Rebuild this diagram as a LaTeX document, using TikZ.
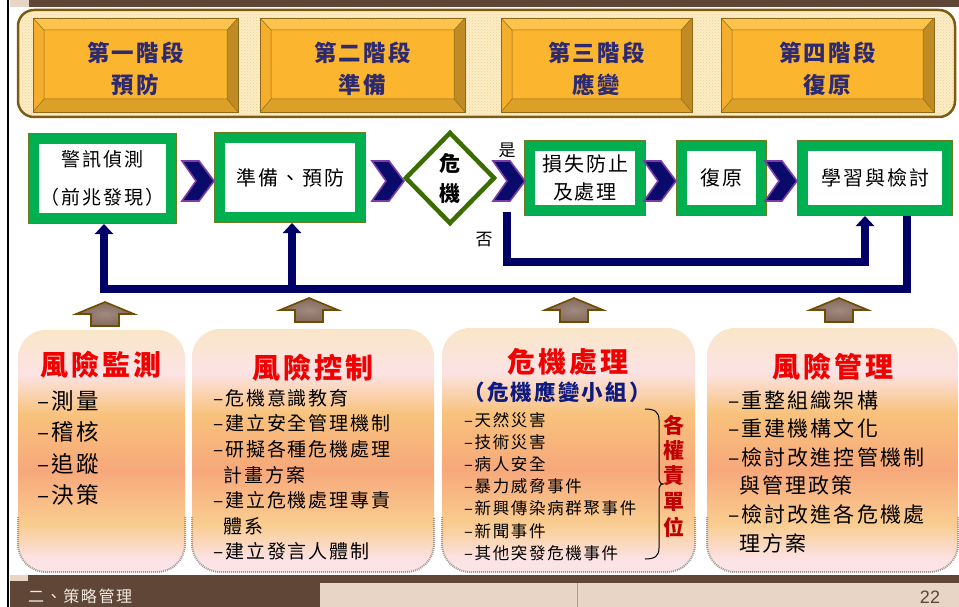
\documentclass[tikz,border=0pt]{standalone}
\usepackage{fontspec}
\setmainfont{Noto Sans CJK TC}
\newfontfamily\cjk[LetterSpace=10]{Noto Sans CJK TC}
\newfontfamily\arialf{Liberation Sans}
\usetikzlibrary{shapes.geometric,arrows.meta,patterns,calc}

\definecolor{navy}{HTML}{000066}
\definecolor{chevfill}{HTML}{0A0A6B}
\definecolor{chevline}{HTML}{7B3CA6}
\definecolor{boxgreen}{HTML}{00B050}
\definecolor{boxedge}{HTML}{6E7A1E}
\definecolor{diagreen}{HTML}{3A6E00}
\definecolor{barbrown}{HTML}{5F4637}
\definecolor{tanc}{HTML}{E8D5C6}
\definecolor{bannerline}{HTML}{7D5C12}
\definecolor{bannerfill}{HTML}{FCEDC8}
\definecolor{bannerdot}{HTML}{F2D48A}
\definecolor{gface}{HTML}{FCB52F}
\definecolor{gtopc}{HTML}{FDC34C}
\definecolor{gleftc}{HTML}{F4AE2C}
\definecolor{grightc}{HTML}{C08A24}
\definecolor{gbotc}{HTML}{DC9F28}
\definecolor{gedgec}{HTML}{8C6A18}
\definecolor{phtext}{HTML}{2E2A72}
\definecolor{titlered}{HTML}{F00000}
\definecolor{subnavy}{HTML}{0E1A80}
\definecolor{unitred}{HTML}{C00000}
\definecolor{arrin}{HTML}{A08A80}
\definecolor{arrout}{HTML}{85695C}
\definecolor{arrline}{HTML}{6E4D00}
\definecolor{shadowc}{HTML}{A09A95}
\definecolor{foottext}{HTML}{F2EAE2}
\definecolor{shA}{HTML}{F9E6C8}
\definecolor{shB}{HTML}{FCE3E4}
\definecolor{shC}{HTML}{F8C27C}
\definecolor{shD}{HTML}{F7A87B}
\definecolor{shE}{HTML}{F9CC8F}
\definecolor{shF}{HTML}{FCE3E6}

\pgfdeclareverticalshading{boxshade}{100bp}{color(0bp)=(shF); color(27.5bp)=(shF); color(35bp)=(shE); color(46bp)=(shD); color(57.5bp)=(shC); color(66bp)=(shB); color(75bp)=(shA); color(100bp)=(shA)}

\tikzset{
  flowbox/.style={draw=boxedge, line width=0.7pt, double=boxgreen, double distance=10pt,
    fill=white, inner sep=0pt, outer sep=5.7pt, align=center, text=black},
  chevshape/.style={fill=chevfill, draw=chevline, line width=1.6pt, line join=miter},
  chevpic/.pic={\path[chevshape] (0,-20) -- (17,-20) -- (32,0) -- (17,20) -- (0,20) -- (14,0) -- cycle;},
  loopline/.style={draw=navy, line width=8pt, line join=miter},
  uptip/.style={-{Triangle[width=18pt,length=10pt]}},
  lbl/.style={inner sep=0pt, font=\fontsize{17}{17}\selectfont},
  phasetext/.style={inner sep=0pt, align=center, text=phtext, font=\cjk\bfseries\fontsize{22.5}{32}\selectfont},
  uparrow/.style={inner color=arrin, outer color=arrout, draw=arrline, line width=1.6pt, line join=miter},
  boxshadow/.style={draw=shadowc, line width=2pt, dash pattern=on 1pt off 1pt},
  rtitle/.style={inner sep=0pt, text=titlered, font=\cjk\bfseries\fontsize{28}{28}\selectfont},
  itemA/.style={inner sep=0pt, anchor=west, font=\cjk\fontsize{22.5}{22.5}\selectfont},
  itemB/.style={inner sep=0pt, anchor=west, font=\cjk\fontsize{19}{19}\selectfont},
  itemC/.style={inner sep=0pt, anchor=west, font=\cjk\fontsize{16.5}{16.5}\selectfont},
  itemD/.style={inner sep=0pt, anchor=west, font=\cjk\fontsize{21}{21}\selectfont},
}

\newcommand\phasebox[4]{%
  \fill[gtopc] (#2,18) -- (#3,18) -- (#3-11,30) -- (#2+11,30) -- cycle;
  \fill[gbotc] (#2,112) -- (#3,112) -- (#3-11,99) -- (#2+11,99) -- cycle;
  \fill[gleftc] (#2,18) -- (#2+11,30) -- (#2+11,99) -- (#2,112) -- cycle;
  \fill[grightc] (#3,18) -- (#3-11,30) -- (#3-11,99) -- (#3,112) -- cycle;
  \fill[gface] (#2+11,30) rectangle (#3-11,99);
  \draw[gedgec, line width=0.6pt] (#2,18) rectangle (#3,112);
  \draw[gedgec, line width=0.5pt] (#2,18) -- (#2+11,30) (#3,18) -- (#3-11,30)
     (#2,112) -- (#2+11,99) (#3,112) -- (#3-11,99) (#2+11,30) rectangle (#3-11,99);
  \node[phasetext] (#1) at ({(#2+#3)/2},69) {#4};
}
\newcommand\riskbox[4]{%
  \shade[shading=boxshade, rounded corners=28pt] (#1,#2) rectangle (#3,#4);
  \draw[boxshadow, rounded corners=28pt] (#1,#4-55) -- (#1,#4) -- (#3,#4) -- (#3,#4-55);
}
\newcommand\uparr[2]{%
  \path[uparrow] (#1,#2) -- (#1+29,#2+12) -- (#1+14,#2+12) -- (#1+14,#2+24) -- (#1-14,#2+24)
    -- (#1-14,#2+12) -- (#1-29,#2+12) -- cycle;
}

\begin{document}
\begin{tikzpicture}[x=1pt,y=-1pt]
\useasboundingbox (0,0) rectangle (959,607);
\fill[white] (0,0) rectangle (959,607);

% top bar and left rule
\fill[barbrown] (29,0) rectangle (959,7);
\fill[tanc] (10,0) rectangle (29,7);

% banner
\draw[bannerline, line width=2.5pt, fill=bannerfill, rounded corners=16pt] (18,10) rectangle (955,117);
\fill[pattern=crosshatch dots, pattern color=bannerdot, rounded corners=15pt] (19.5,11.5) rectangle (953.5,115.5);

\phasebox{P1}{33}{238}{第一階段\\預防}
\phasebox{P2}{260}{465}{第二階段\\準備}
\phasebox{P3}{501}{692}{第三階段\\應變}
\phasebox{P4}{721}{934}{第四階段\\復原}

% flow row
\node[flowbox, minimum width=137.6pt, minimum height=79.6pt, font=\cjk\fontsize{19}{38}\selectfont] (A) at (102.5,178.5) {警訊偵測\\（前兆發現）};
\node[flowbox, minimum width=140.6pt, minimum height=79.6pt, font=\cjk\fontsize{20}{20}\selectfont] (B) at (290,177.5) {準備、預防};
\node[diamond, draw=diagreen, line width=4.5pt, minimum width=90pt, minimum height=92pt, inner sep=0pt, align=center, font=\bfseries\fontsize{21}{30}\selectfont] (D) at (450,178) {危\\機};
\node[flowbox, minimum width=110.6pt, minimum height=64.6pt, font=\cjk\fontsize{20}{28}\selectfont] (C) at (585,178) {損失防止\\及處理};
\node[flowbox, minimum width=79.6pt, minimum height=64.6pt, font=\cjk\fontsize{20}{20}\selectfont] (R) at (721.5,178) {復原};
\node[flowbox, minimum width=144.6pt, minimum height=64.6pt, font=\cjk\fontsize{20}{20}\selectfont] (E) at (875,178) {學習與檢討};

\pic at (182,181) {chevpic};
\pic at (372,181) {chevpic};
\pic at (493,181) {chevpic};
\pic at (644,181) {chevpic};
\pic at (765,181) {chevpic};

\node[lbl] (yes) at (507,150) {是};
\node[lbl] (no) at (484,240) {否};

% feedback loops
\coordinate (j1) at (104,289);
\coordinate (j2) at (292,289);
\coordinate (nStart) at (507,212);
\coordinate (j3) at (865,262);
\draw[loopline, uptip] ($(E.south)+(32,0)$) |- (j1) -- (j1 |- A.south);
\draw[loopline, uptip] (j2) -- (j2 |- B.south);
\draw[loopline, uptip] (nStart) |- (j3) -- (j3 |- E.south);

% up arrows
\uparr{105}{302}
\uparr{309}{298}
\uparr{574}{298}
\uparr{839}{298}

% bottom boxes
\riskbox{18}{330}{185}{572}
\riskbox{192}{329}{434}{572}
\riskbox{442}{328}{695}{572}
\riskbox{707}{328}{958}{572}

\node[rtitle] (k1t) at (101,365) {風險監測};
\foreach \t [count=\i] in {–測量,–稽核,–追蹤,–決策}
  \node[itemA] (k1i\i) at (37,{401+(\i-1)*31.4}) {\t};

\node[rtitle] (k2t) at (313,368) {風險控制};
\foreach \t [count=\i] in {–危機意識教育,–建立安全管理機制,–研擬各種危機處理,\phantom{–}計畫方案,–建立危機處理專責,\phantom{–}體系,–建立發言人體制}
  \node[itemB] (k2i\i) at (213,{398+(\i-1)*25.6}) {\t};

\node[rtitle] (k3t) at (568,362) {危機處理};
\node[inner sep=0pt, text=subnavy, font=\cjk\bfseries\fontsize{21.5}{21.5}\selectfont] (k3s) at (557,392) {（危機應變小組）};
\foreach \t [count=\i] in {–天然災害,–技術災害,–病人安全,–暴力威脅事件,–新興傳染病群聚事件,–新聞事件,–其他突發危機事件}
  \node[itemC] (k3i\i) at (464,{420+(\i-1)*22.17}) {\t};
\draw[line width=1pt] (645,409) .. controls (655,409) and (659,412) .. (659,420) -- (659,477)
   .. controls (659,481) and (660,484) .. (663,484) .. controls (660,484) and (659,487) .. (659,491)
   -- (659,548) .. controls (659,556) and (655,559) .. (645,559);
\foreach \t [count=\i] in {各,權,責,單,位}
  \node[inner sep=0pt, text=unitred, font=\bfseries\fontsize{21}{21}\selectfont] (k3u\i) at (674,{425+(\i-1)*25.5}) {\t};

\node[rtitle] (k4t) at (833,367) {風險管理};
\foreach \t [count=\i] in {–重整組織架構,–重建機構文化,–檢討改進控管機制,\phantom{–}與管理政策,–檢討改進各危機處,\phantom{–}理方案}
  \node[itemD] (k4i\i) at (728,{400+(\i-1)*28.6}) {\t};

% footer
\fill[barbrown] (10,575) rectangle (959,607);
\fill[tanc] (320,583) rectangle (959,607);
\fill[tanc] (10,575) rectangle (28,581);
\draw[barbrown!40!tanc, line width=0.5pt] (577,583) -- (577,607);
\node[inner sep=0pt, anchor=west, text=foottext, font=\cjk\fontsize{16}{16}\selectfont] (foot) at (28,596) {二、策略管理};
\node[inner sep=0pt, text=barbrown, font=\arialf\fontsize{18}{18}\selectfont] (pg) at (930,597) {22};

\draw[black, line width=2pt] (8.3,0) -- (8.3,607);
\end{tikzpicture}
\end{document}
